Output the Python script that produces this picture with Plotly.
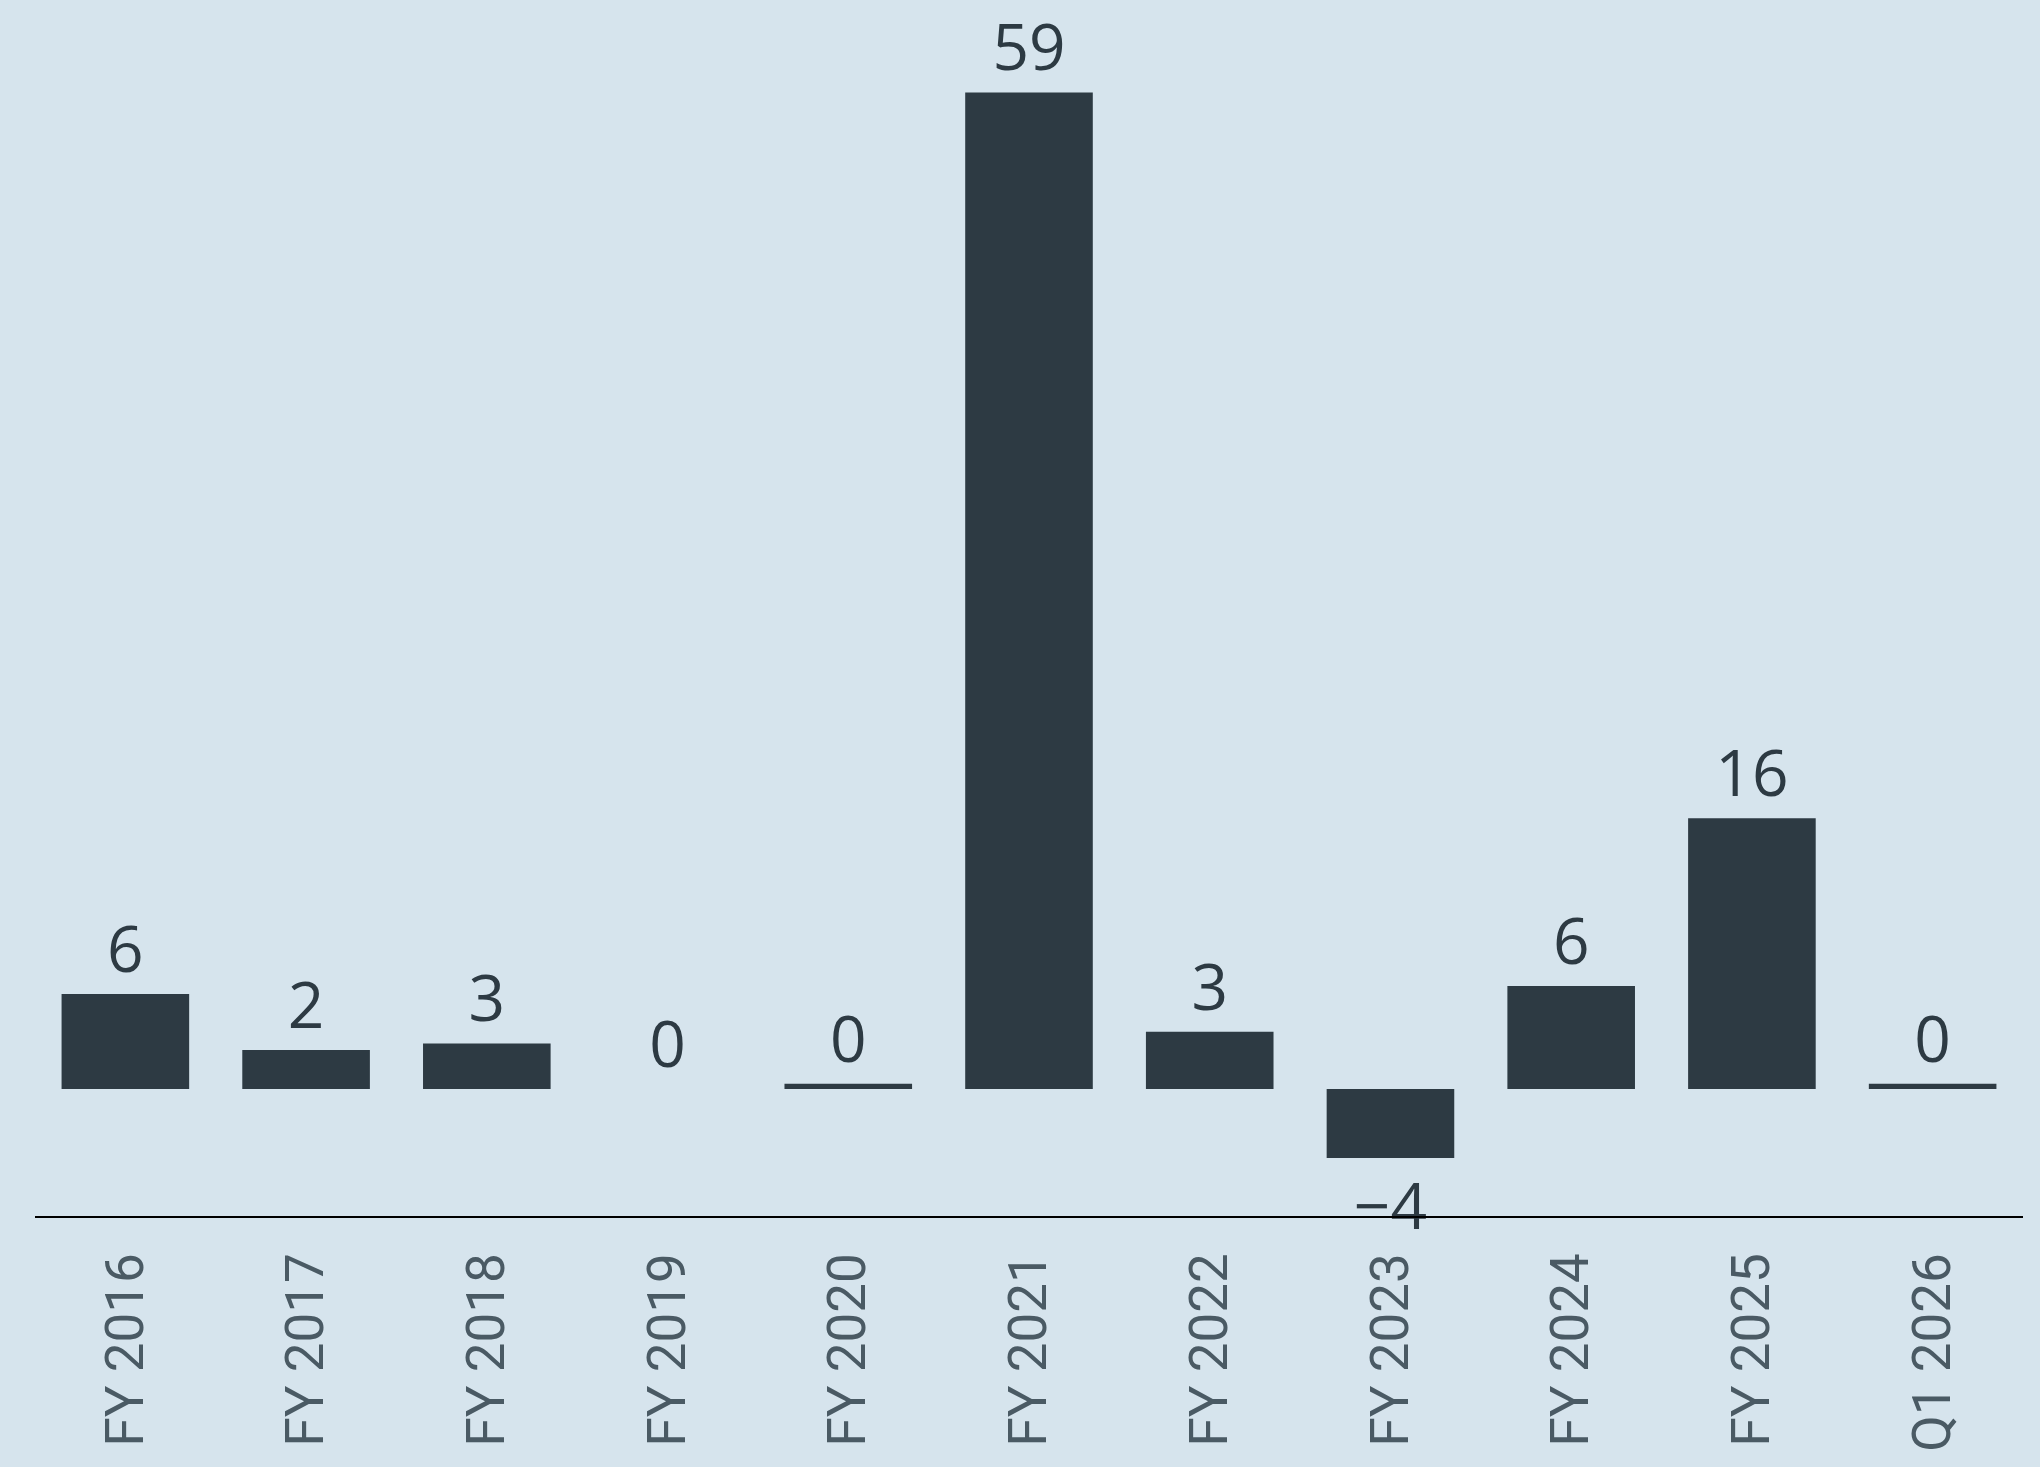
import plotly.graph_objects as go

categories = ["FY 2016", "FY 2017", "FY 2018", "FY 2019", "FY 2020", "FY 2021",
              "FY 2022", "FY 2023", "FY 2024", "FY 2025", "Q1 2026"]
values = [5.63, 2.31, 2.70, 0.0, 0.31, 59.0, 3.39, -4.08, 6.09, 16.03, 0.31]

bar_color = "#2d3a43"
bg_color = "#d6e4ed"
tick_color = "#4a5a64"

labels = [f"{round(v):d}".replace("-", "\u2212") for v in values]

fig = go.Figure(
    go.Bar(
        x=categories,
        y=values,
        marker=dict(color=bar_color, line=dict(width=0)),
        text=labels,
        texttemplate="%{text}",
        textposition="outside",
        textfont=dict(family="Open Sans", size=64, color=bar_color),
        cliponaxis=False,
        hoverinfo="skip",
    )
)

fig.update_layout(
    template="none",
    width=2040,
    height=1467,
    margin=dict(l=35, r=17, t=20, b=251),
    paper_bgcolor=bg_color,
    plot_bgcolor=bg_color,
    bargap=0.294,
    showlegend=False,
    xaxis=dict(
        type="category",
        showline=True,
        linecolor="#000000",
        linewidth=2,
        showgrid=False,
        zeroline=False,
        ticks="",
        tickangle=-90,
        tickfont=dict(family="Roboto", size=53, color=tick_color),
        ticklabelstandoff=14,
        automargin=False,
    ),
    yaxis=dict(
        range=[-7.52, 63.29],
        showline=False,
        showgrid=False,
        zeroline=False,
        showticklabels=False,
        ticks="",
        automargin=False,
    ),
)

fig.write_html("out.html")
